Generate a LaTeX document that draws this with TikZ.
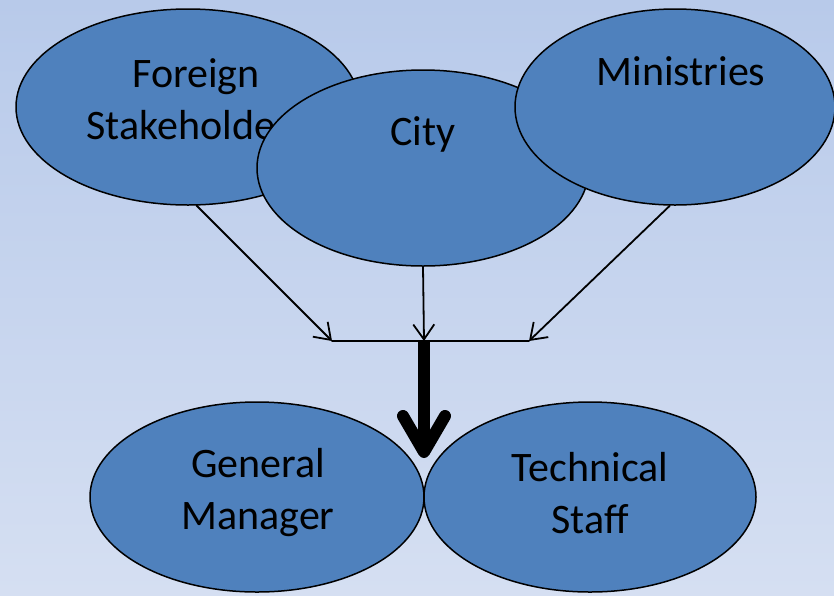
\documentclass[tikz,border=0pt]{standalone}
\usepackage{fontspec}
\setmainfont{Carlito}
\usetikzlibrary{shapes.geometric,arrows.meta}
\definecolor{bgtop}{HTML}{B8CAEA}
\definecolor{bgbot}{HTML}{D5DFF2}
\definecolor{blob}{HTML}{4F81BD}
\tikzset{
  blob/.style={ellipse, draw=black, line width=1.5pt, fill=blob, inner sep=0pt},
  word/.style={align=center, font=\fontsize{42}{52}\selectfont, text=black},
  feed/.style={line width=1.8pt, -{Straight Barb[length=15pt,width=21pt]}},
}
\begin{document}
\begin{tikzpicture}[x=1pt, y=-1pt, line join=round, line cap=round]
	\shade[top color=bgtop, bottom color=bgbot] (0,0) rectangle (834,595);
	\useasboundingbox (0,0) rectangle (834,595);
	% upper row
	\node[blob, minimum width=344pt, minimum height=196pt] (fs) at (188,107) {};
	\node[word] (fst) at (196,99) {Foreign\\Stakeholders};
	\node[blob, minimum width=332pt, minimum height=196pt] (city) at (423,168) {};
	\node[word] (cityt) at (423,134) {City};
	\node[blob, minimum width=320pt, minimum height=196pt] (min) at (675,107) {};
	\node[word] (mint) at (681,71) {Ministries};
	% lower row
	\node[blob, minimum width=334pt, minimum height=190pt] (gm) at (257,497) {};
	\node[word] (gmt) at (258,493) {General\\Manager};
	\node[blob, minimum width=332pt, minimum height=190pt] (ts) at (590,497) {};
	\node[word] (tst) at (590,493) {Technical\\Staff};
	% joins
	\coordinate (jl) at (332,341);
	\coordinate (jm) at (424,341);
	\coordinate (jr) at (529,341);
	\coordinate (tip) at (424,458);
	\draw[feed] (fs.-85) -- (jl);
	\draw[feed] (city.south) -- (jm);
	\draw[feed] (min.-93) -- (jr);
	\draw[line width=1.8pt] (jl) -- (jr);
	\draw[line width=12pt, line cap=butt, -{Straight Barb[round,length=36pt,width=42pt]}] (jm) -- (tip);
\end{tikzpicture}
\end{document}
